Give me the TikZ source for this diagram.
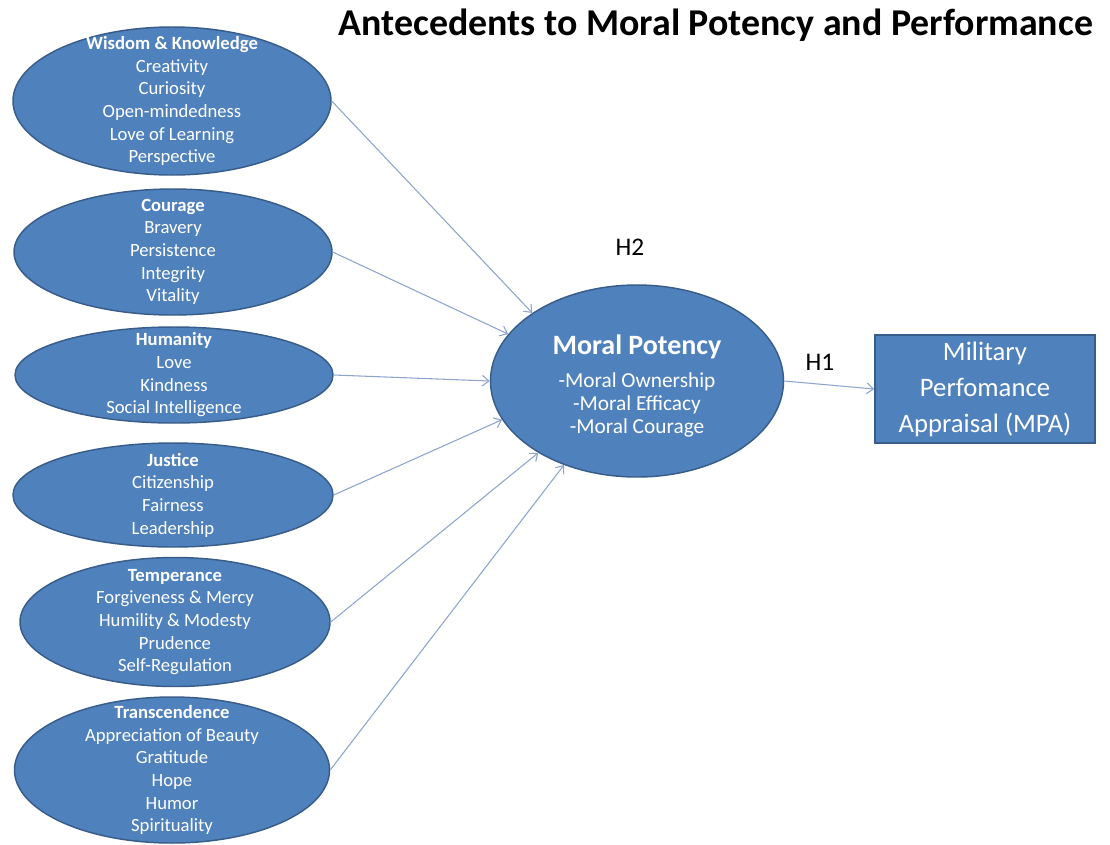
\documentclass[tikz,border=0pt]{standalone}
\usepackage{fontspec}
\setmainfont{Carlito}
\usetikzlibrary{shapes.geometric,arrows.meta}
\definecolor{officeblue}{HTML}{4F81BD}
\definecolor{officeedge}{HTML}{385D8A}
\definecolor{linkblue}{HTML}{8EA5CF}

\tikzset{
  virtue/.style 2 args={ellipse, fill=officeblue, draw=officeedge, line width=1.1pt,
    inner sep=0pt, minimum width=#1*0.75pt, minimum height=#2*0.75pt},
  virtuetext/.style={text=white, align=center, font=\fontsize{14}{17}\selectfont},
  link/.style={draw=linkblue, line width=0.8pt, -{Straight Barb[length=5pt,width=8pt]}},
}

\begin{document}
\begin{tikzpicture}[x=0.75pt, y=-0.75pt]
    \useasboundingbox (0,0) rectangle (1110,844);
    \fill[white] (0,0) rectangle (1110,844);

    \node[anchor=base, font=\fontsize{28.4}{32}\selectfont\bfseries] (title) at (716,35)
        {Antecedents to Moral Potency and Performance};

    % character strengths
    \node[virtue={318}{148}] (v1) at (172,101) {};
    \node[virtuetext] at (v1) {\textbf{Wisdom \& Knowledge}\\Creativity\\Curiosity\\Open-mindedness\\Love of Learning\\Perspective};
    \node[virtue={318}{126}] (v2) at (173,252) {};
    \node[virtuetext] at (v2) {\textbf{Courage}\\Bravery\\Persistence\\Integrity\\Vitality};
    \node[virtue={318}{96}] (v3) at (174,375) {};
    \node[virtuetext] at (v3) {\textbf{Humanity}\\Love\\Kindness\\Social Intelligence};
    \node[virtue={320}{104}] (v4) at (173,495) {};
    \node[virtuetext] at (v4) {\textbf{Justice}\\Citizenship\\Fairness\\Leadership};
    \node[virtue={310}{129}] (v5) at (175,622) {};
    \node[virtuetext] at (v5) {\textbf{Temperance}\\Forgiveness \& Mercy\\Humility \& Modesty\\Prudence\\Self-Regulation};
    \node[virtue={315}{146}] (v6) at (172,770) {};
    \node[virtuetext] at (v6) {\textbf{Transcendence}\\Appreciation of Beauty\\Gratitude\\Hope\\Humor\\Spirituality};

    % moral potency and outcome
    \node[virtue={293}{192}] (mp) at (637,381) {};
    \node[text=white, align=center, font=\fontsize{16}{17.3}\selectfont] at (637,386)
        {{\fontsize{21}{25}\selectfont\textbf{Moral Potency}}\\[8pt]-Moral Ownership\\-Moral Efficacy\\-Moral Courage};
    \node[draw=officeedge, fill=officeblue, line width=1.1pt, inner sep=1pt,
          minimum width=220*0.75pt, minimum height=108*0.75pt,
          text=white, align=center, font=\fontsize{20}{27}\selectfont] (mpa) at (985,389)
        {Military\\Perfomance\\Appraisal (MPA)};

    \node[anchor=base, font=\fontsize{19}{22}\selectfont] (h2) at (630,255) {H2};
    \node[anchor=base, font=\fontsize{19}{22}\selectfont] (h1) at (820,370) {H1};

    \draw[link] (v1.east) -- (mp.147);
    \draw[link] (v2.east) -- (mp.160);
    \draw[link] (v3.east) -- (mp.180);
    \draw[link] (v4.east) -- (mp.196);
    \draw[link] (v5.east) -- (mp.216);
    \draw[link] (v6.east) -- (mp.229);
    \draw[link] (mp.east) -- (mpa.west);
\end{tikzpicture}
\end{document}
